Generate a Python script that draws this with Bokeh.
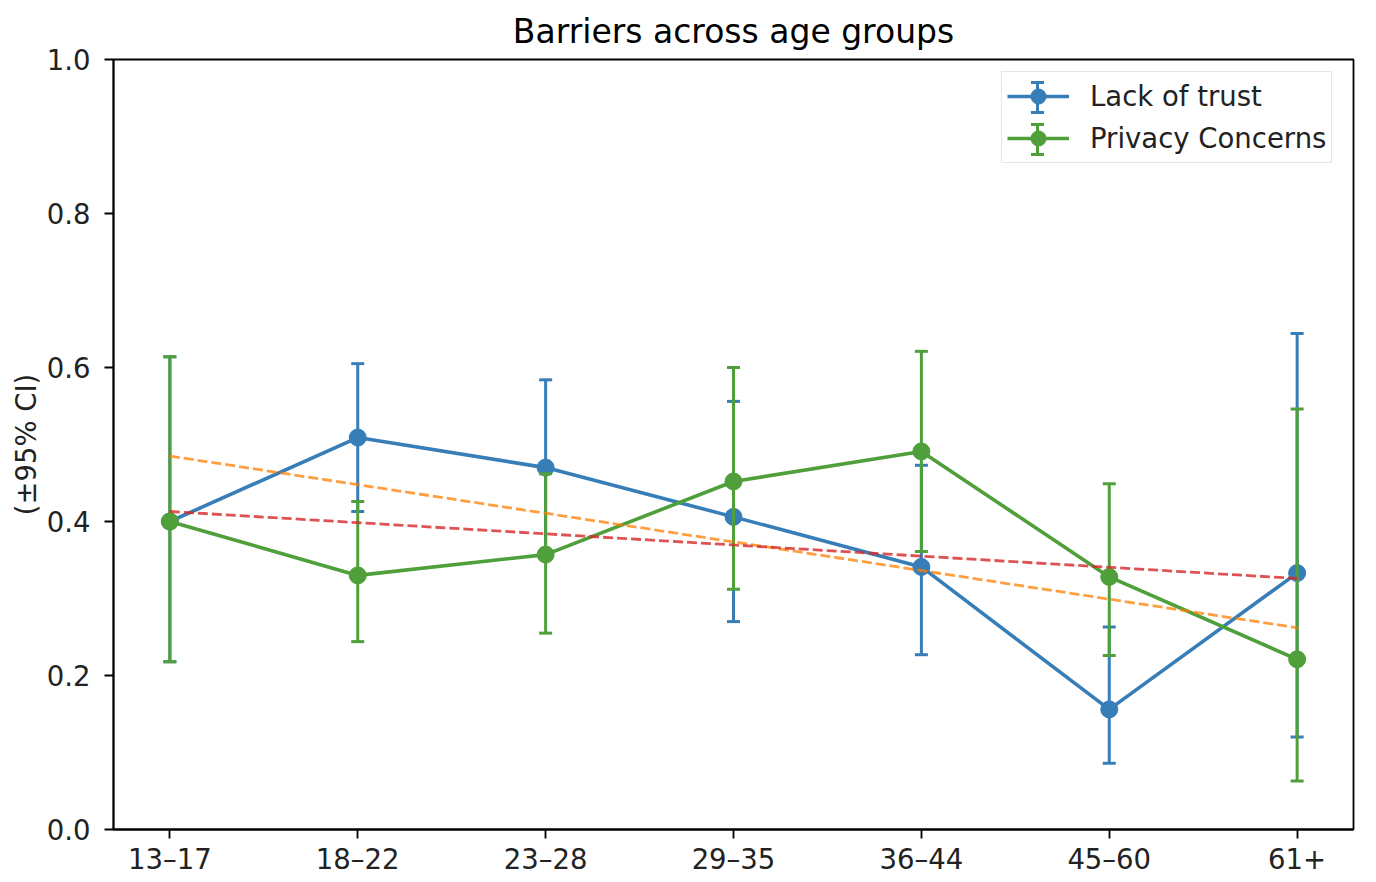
from bokeh.plotting import figure
from bokeh.models import (Range1d, FixedTicker, PrintfTickFormatter, Legend, LegendItem,
                          Whisker, TeeHead, ColumnDataSource)
from bokeh.embed import file_html
from bokeh.resources import INLINE

# ---- data ----
age_groups = ["13–17", "18–22", "23–28", "29–35", "36–44", "45–60", "61+"]

trust_mean = [0.400, 0.509, 0.470, 0.406, 0.341, 0.156, 0.333]
trust_low = [0.218, 0.413, 0.357, 0.270, 0.227, 0.086, 0.120]
trust_high = [0.614, 0.605, 0.584, 0.556, 0.473, 0.263, 0.644]

privacy_mean = [0.400, 0.330, 0.357, 0.452, 0.491, 0.328, 0.221]
privacy_low = [0.218, 0.244, 0.255, 0.312, 0.361, 0.226, 0.063]
privacy_high = [0.614, 0.426, 0.462, 0.600, 0.621, 0.449, 0.546]

# trend-line end values (at first and last age group)
trust_trend = [0.485, 0.262]
privacy_trend = [0.413, 0.326]

y_ticks = [0.0, 0.2, 0.4, 0.6, 0.8, 1.0]

FONT = "DejaVu Sans"
BLUE = "#377eb8"
GREEN = "#4f9f3b"
ORANGE = "#ff7f00"
RED = "#d62728"
TXT = "#222222"
FS = "27.5px"

# layout (pixels)
FRAME_W, FRAME_H = 1240, 770
LEG_PAD, LEG_GW, LEG_GH, LEG_SP, LEG_MARGIN = 5, 62, 38, 4, 14
LEG_LEFT = 888
LEG_H = 2 * LEG_GH + LEG_SP + 2 * LEG_PAD
LEG_BOTTOM = FRAME_H - LEG_MARGIN - LEG_H

xs = list(range(len(age_groups)))
trend_x = [xs[0], xs[-1]]

p = figure(width=1368, height=877, output_backend="svg", toolbar_location=None,
           x_range=Range1d(-0.3, len(age_groups) - 0.7), y_range=Range1d(0, 1),
           title="Barriers across age groups",
           min_border_left=113, min_border_right=15, min_border_top=59, min_border_bottom=48)

p.background_fill_color = "white"
p.border_fill_color = "white"
p.outline_line_color = "black"
p.outline_line_alpha = 1.0
p.outline_line_width = 1.8
p.xgrid.visible = False
p.ygrid.visible = False

p.title.text_font = FONT
p.title.text_font_size = "33px"
p.title.text_font_style = "normal"
p.title.text_color = "black"
p.title.align = "center"
p.title.standoff = 18

for ax in (p.xaxis[0], p.yaxis[0]):
    ax.axis_line_color = "black"
    ax.axis_line_width = 1.8
    ax.major_tick_line_color = "black"
    ax.major_tick_line_width = 1.8
    ax.major_tick_out = 9
    ax.major_tick_in = 0
    ax.minor_tick_out = 0
    ax.minor_tick_in = 0
    ax.major_label_text_font = FONT
    ax.major_label_text_font_size = FS
    ax.major_label_text_color = TXT

p.xaxis.major_label_standoff = 4
p.yaxis.major_label_standoff = 14
p.xaxis.ticker = FixedTicker(ticks=xs)
p.xaxis.major_label_overrides = {i: lab for i, lab in zip(xs, age_groups)}
p.yaxis.ticker = FixedTicker(ticks=y_ticks)
p.yaxis.formatter = PrintfTickFormatter(format="%.1f")
p.yaxis.axis_label = "(±95% CI)"
p.yaxis.axis_label_text_font = FONT
p.yaxis.axis_label_text_font_size = FS
p.yaxis.axis_label_text_font_style = "normal"
p.yaxis.axis_label_text_color = TXT
p.yaxis.axis_label_standoff = 2

series = [("Lack of trust", trust_mean, trust_low, trust_high, BLUE),
          ("Privacy Concerns", privacy_mean, privacy_low, privacy_high, GREEN)]

items = []
for label, mean, low, high, col in series:
    p.segment(x0=xs, y0=low, x1=xs, y1=high, line_color=col, line_width=3)
    p.scatter(x=xs, y=low, marker="dash", size=13, line_color=col, line_width=3)
    p.scatter(x=xs, y=high, marker="dash", size=13, line_color=col, line_width=3)
    ln = p.line(x=xs, y=mean, line_color=col, line_width=3.6)
    pts = p.scatter(x=xs, y=mean, marker="circle", size=17, fill_color=col, line_color=col)
    items.append(LegendItem(label=label, renderers=[ln, pts]))

p.line(x=trend_x, y=trust_trend, line_color=ORANGE, line_alpha=0.75, line_width=2.8, line_dash="10 4")
p.line(x=trend_x, y=privacy_trend, line_color=RED, line_alpha=0.8, line_width=2.8, line_dash="10 4")

legend = Legend(items=items, location=(LEG_LEFT, LEG_BOTTOM))
legend.label_text_font = FONT
legend.label_text_font_size = FS
legend.label_text_color = TXT
legend.glyph_width = LEG_GW
legend.glyph_height = LEG_GH
legend.label_height = LEG_GH
legend.spacing = LEG_SP
legend.padding = LEG_PAD
legend.margin = 0
legend.label_standoff = 21
legend.border_line_color = "#cccccc"
legend.border_line_width = 1.5
legend.background_fill_alpha = 0.0
p.add_layout(legend)

# error-bar strokes inside the legend glyphs (screen units, relative to the frame)
glyph_cx = LEG_LEFT + LEG_PAD + LEG_GW / 2
for i, (label, mean, low, high, col) in enumerate(series):
    row_cy = FRAME_H - LEG_MARGIN - LEG_PAD - LEG_GH / 2 - i * (LEG_GH + LEG_SP)
    src = ColumnDataSource(dict(base=[glyph_cx], lower=[row_cy - 15], upper=[row_cy + 15]))
    w = Whisker(source=src, base="base", lower="lower", upper="upper", dimension="height",
                base_units="screen", lower_units="screen", upper_units="screen",
                line_color=col, line_width=3, line_alpha=1.0, level="overlay",
                lower_head=TeeHead(size=13, line_color=col, line_width=3),
                upper_head=TeeHead(size=13, line_color=col, line_width=3))
    p.add_layout(w)

open("out.html", "w").write(file_html(p, INLINE))
